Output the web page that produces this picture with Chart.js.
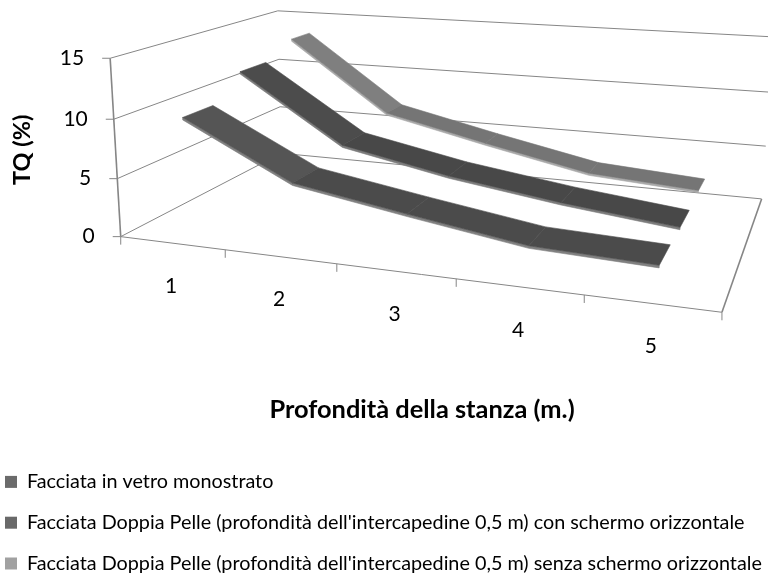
<!DOCTYPE html>
<html>
<head>
<meta charset="utf-8">
<script src="https://cdn.jsdelivr.net/npm/chart.js@4"></script>
<style>
  html, body { margin: 0; padding: 0; background: #fff; }
  #wrap { width: 768px; height: 575px; }
</style>
</head>
<body>
<div id="wrap"><canvas id="chart" width="768" height="575"></canvas></div>
<script>
const categories = ["1", "2", "3", "4", "5"];
const yTicks = [0, 5, 10, 15];
const seriesNames = [
  "Facciata in vetro monostrato",
  "Facciata Doppia Pelle (profondità dell'intercapedine 0,5 m) con schermo orizzontale",
  "Facciata Doppia Pelle (profondità dell'intercapedine 0,5 m) senza schermo orizzontale"
];
const monostrato = [10, 5.4, 3.85, 2.4, 2.05];
const conSchermo = [12.05, 6.2, 4.35, 3, 1.95];
const senzaSchermo = [13.4, 6.9, 4.8, 2.85, 2.2];

const legendColors = ["#6b6b6b", "#696969", "#a1a1a1"];
const topColors = ["#4b4b4b", "#484848", "#757575"];
const firstSegColors = ["#555555", "#4c4c4c", "#7f7f7f"];
const edgeColors = ["#808080", "#7c7c7c", "#a8a8a8"];
const ribbonFront = [0.25, 0.25, 0.3];
const ribbonBack = [0.75, 0.75, 0.7];
const frameColor = "#868686";

// frame corners of the 3D box on the page: [u, v, z, px, py], all of u v z in 0..1
const anchors = [
  [0, 0, 0, 122, 237],
  [1, 0, 0, 722, 312],
  [0, 0, 1, 280, 153],
  [1, 0, 1, 762, 199],
  [0, 1, 0, 109, 58],
  [0, 1, 1, 279, 11],
  [1, 1, 1, 774, 37],
  [0.6, 0, 0, 456, 279]
];

// least squares fit of the perspective matrix
function fitProjection(pts) {
  const rows = [];
  pts.forEach(p => {
    const [u, v, z, x, y] = p;
    rows.push([u, v, z, 1, 0, 0, 0, 0, -x * u, -x * v, -x * z, x]);
    rows.push([0, 0, 0, 0, u, v, z, 1, -y * u, -y * v, -y * z, y]);
  });
  const n = 11;
  const m = [];
  for (let i = 0; i < n; i++) {
    m.push(new Array(n + 1).fill(0));
    rows.forEach(r => {
      for (let j = 0; j <= n; j++) m[i][j] += r[i] * r[j];
    });
  }
  for (let i = 0; i < n; i++) {
    let best = i;
    for (let k = i + 1; k < n; k++) if (Math.abs(m[k][i]) > Math.abs(m[best][i])) best = k;
    [m[i], m[best]] = [m[best], m[i]];
    for (let k = 0; k < n; k++) {
      if (k === i) continue;
      const f = m[k][i] / m[i][i];
      for (let j = i; j <= n; j++) m[k][j] -= f * m[i][j];
    }
  }
  return m.map((r, i) => r[n] / r[i]);
}
const H = fitProjection(anchors);

function toPage(u, v, z) {
  const w = H[8] * u + H[9] * v + H[10] * z + 1;
  return {
    x: (H[0] * u + H[1] * v + H[2] * z + H[3]) / w,
    y: (H[4] * u + H[5] * v + H[6] * z + H[7]) / w
  };
}

// scale pixel -> page position, depth given in series slots (0..3)
function project(chart, px, py, depth) {
  const a = chart.chartArea;
  return toPage((px - a.left) / a.width, (a.bottom - py) / a.height, depth / 3);
}

function polyline(ctx, pts, color, width) {
  ctx.beginPath();
  pts.forEach((p, i) => i ? ctx.lineTo(p.x, p.y) : ctx.moveTo(p.x, p.y));
  ctx.strokeStyle = color;
  ctx.lineWidth = width;
  ctx.stroke();
}

function polygon(ctx, pts, color) {
  ctx.beginPath();
  pts.forEach((p, i) => i ? ctx.lineTo(p.x, p.y) : ctx.moveTo(p.x, p.y));
  ctx.closePath();
  ctx.fillStyle = color;
  ctx.fill();
  // hides the seam between two segments
  ctx.strokeStyle = color;
  ctx.lineWidth = 0.6;
  ctx.stroke();
}

const box3d = {
  id: "box3d",
  afterLayout(chart) {
    // legend rows start at the far left of the page
    chart.legend.left = -16;
    chart.legend.top = 451;
  },
  beforeDatasetsDraw(chart) {
    const ctx = chart.ctx;
    const a = chart.chartArea;
    const xs = chart.scales.x;
    const ys = chart.scales.y;
    ctx.save();

    // walls and floor
    yTicks.forEach(t => {
      const py = ys.getPixelForValue(t);
      polyline(ctx, [project(chart, a.left, py, 0), project(chart, a.left, py, 3), project(chart, a.right, py, 3)], frameColor, 1);
      const s = project(chart, a.left, py, 0);
      polyline(ctx, [{ x: s.x - 8, y: s.y }, s], frameColor, 1);
    });
    polyline(ctx, [project(chart, a.left, a.bottom, 0), project(chart, a.left, a.top, 0)], frameColor, 1.6);
    polyline(ctx, [project(chart, a.left, a.bottom, 0), project(chart, a.right, a.bottom, 0)], frameColor, 1);
    polyline(ctx, [project(chart, a.right, a.bottom, 0), project(chart, a.right, a.bottom, 3)], frameColor, 1.6);

    // ticks under the front edge
    for (let i = 0; i <= categories.length; i++) {
      const s = project(chart, a.left + i * a.width / categories.length, a.bottom, 0);
      polyline(ctx, [s, { x: s.x, y: s.y + 8 }], frameColor, 1);
    }

    // ribbons, back one first
    for (let d = chart.data.datasets.length - 1; d >= 0; d--) {
      const values = chart.data.datasets[d].data;
      const front = values.map((v, i) => project(chart, xs.getPixelForValue(i), ys.getPixelForValue(v), d + ribbonFront[d]));
      const back = values.map((v, i) => project(chart, xs.getPixelForValue(i), ys.getPixelForValue(v), d + ribbonBack[d]));
      const lower = values.map((v, i) => project(chart, xs.getPixelForValue(i), ys.getPixelForValue(v - 0.2), d + ribbonFront[d]));
      polygon(ctx, front.concat(lower.slice().reverse()), edgeColors[d]);
      for (let i = 0; i < values.length - 1; i++) {
        polygon(ctx, [front[i], back[i], back[i + 1], front[i + 1]], i === 0 ? firstSegColors[d] : topColors[d]);
      }
    }

    // tick labels follow the box
    ctx.fillStyle = "#000";
    ctx.font = "21px Lato";
    ctx.textBaseline = "middle";
    ctx.textAlign = "right";
    ys.ticks.forEach(t => {
      const s = project(chart, a.left, ys.getPixelForValue(t.value), 0);
      ctx.fillText(t.label, s.x - 26, s.y);
    });
    ctx.textAlign = "center";
    categories.forEach((c, i) => {
      const s = project(chart, xs.getPixelForValue(i), a.bottom, 0);
      ctx.fillText(c, s.x - 1, s.y + 43);
    });
    ctx.restore();
  }
};

Chart.defaults.font.family = "Lato";

new Chart(document.getElementById("chart"), {
  type: "line",
  data: {
    labels: categories,
    datasets: [monostrato, conSchermo, senzaSchermo].map((vals, i) => ({
      label: seriesNames[i],
      data: vals,
      backgroundColor: legendColors[i],
      borderColor: legendColors[i],
      borderWidth: 0,
      showLine: false,
      pointRadius: 0
    }))
  },
  options: {
    responsive: false,
    animation: false,
    layout: { padding: 0 },
    scales: {
      x: {
        offset: true,
        grid: { display: false },
        border: { display: false },
        ticks: { display: false },
        title: {
          display: true,
          text: "Profondità della stanza (m.)",
          color: "#000",
          font: { size: 25.4, weight: "bold" },
          padding: { top: 86.7, bottom: 17.8 }
        }
      },
      y: {
        min: 0,
        max: 15,
        afterBuildTicks(axis) { axis.ticks = yTicks.map(v => ({ value: v, label: String(v) })); },
        grid: { display: false },
        border: { display: false },
        ticks: { display: false },
        title: {
          display: true,
          text: "TQ (%)",
          color: "#000",
          font: { size: 23.5, weight: "bold" },
          padding: { top: 8, bottom: 31.8 }
        }
      }
    },
    plugins: {
      tooltip: { enabled: false },
      legend: {
        position: "bottom",
        align: "start",
        labels: { color: "#000", font: { size: 19.8 }, boxWidth: 12, boxHeight: 12, padding: 21 }
      }
    }
  },
  plugins: [box3d]
});
</script>
</body>
</html>
